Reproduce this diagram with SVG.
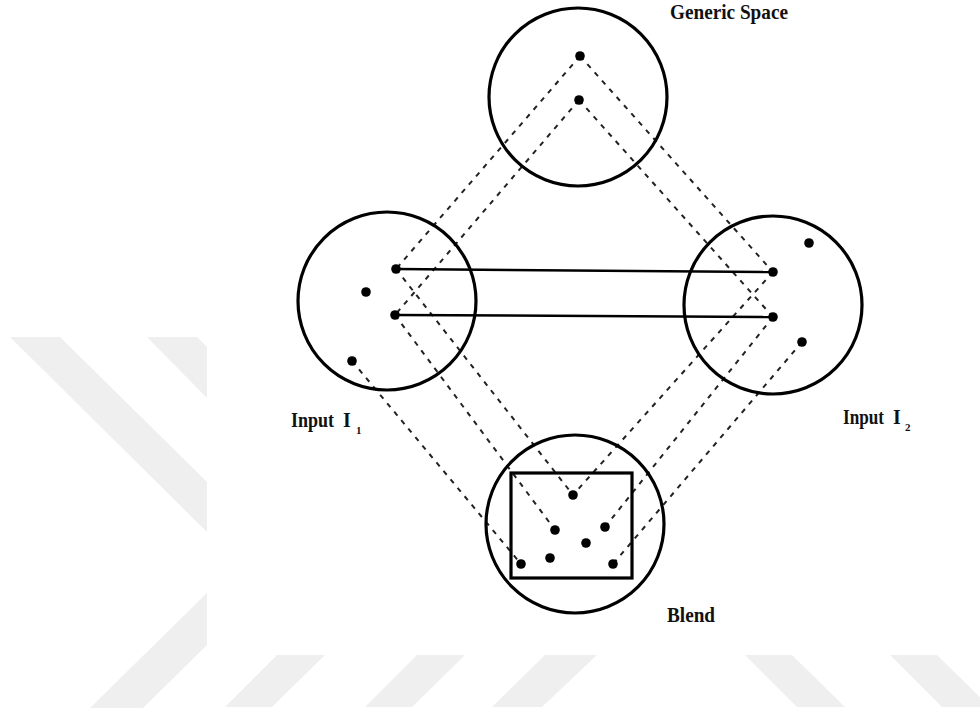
<svg xmlns="http://www.w3.org/2000/svg" width="980" height="713" viewBox="0 0 980 713">
<style>
.wm{fill:#efefef;stroke:none}
.ring{fill:none;stroke:#000;stroke-width:3.2}
.box{fill:none;stroke:#000;stroke-width:3.2}
.dot{fill:#000}
.dash{stroke:#222;stroke-width:2;stroke-dasharray:5 6;fill:none}
.solid{stroke:#000;stroke-width:2.5;fill:none}
.lbl{font-family:"Liberation Serif","Times New Roman",serif;font-weight:bold;font-size:20px;fill:#111}
.sub{font-size:11px}
</style>
<rect width="980" height="713" fill="#fff"/>
<g id="watermark">
<polygon class="wm" points="10,337 60,337 207,482 207,532"/>
<polygon class="wm" points="147,337 197,337 207,347 207,398"/>
<polygon class="wm" points="90,708 143,708 207,645 207,593"/>
<polygon class="wm" points="277,655 325,655 272,707 225,707"/>
<polygon class="wm" points="417,655 465,655 412,707 365,707"/>
<polygon class="wm" points="545,655 597,655 542,707 492,707"/>
<polygon class="wm" points="745,655 792,655 845,707 797,707"/>
<polygon class="wm" points="890,655 937,655 990,707 942,707"/>
</g>
<g id="connectors">
<line class="dash" x1="580" y1="56" x2="396" y2="269"/>
<line class="dash" x1="579" y1="100" x2="395" y2="315"/>
<line class="dash" x1="580" y1="56" x2="773" y2="272"/>
<line class="dash" x1="579" y1="100" x2="773" y2="317"/>
<line class="dash" x1="396" y1="269" x2="573" y2="495"/>
<line class="dash" x1="395" y1="315" x2="555" y2="530"/>
<line class="dash" x1="352" y1="361" x2="521" y2="564"/>
<line class="dash" x1="773" y1="272" x2="573" y2="495"/>
<line class="dash" x1="773" y1="317" x2="605" y2="527"/>
<line class="dash" x1="802" y1="342" x2="613" y2="564"/>
<line class="solid" x1="396" y1="269" x2="773" y2="272"/>
<line class="solid" x1="395" y1="315" x2="773" y2="317"/>
</g>
<g id="generic">
<circle class="ring" cx="578" cy="97" r="89"/>
<circle class="dot" cx="580" cy="56" r="4.8"/>
<circle class="dot" cx="579" cy="100" r="4.8"/>
<text class="lbl" x="670" y="19" textLength="118" lengthAdjust="spacingAndGlyphs">Generic Space</text>
</g>
<g id="input1">
<circle class="ring" cx="387" cy="301" r="89"/>
<circle class="dot" cx="396" cy="269" r="4.8"/>
<circle class="dot" cx="395" cy="315" r="4.8"/>
<circle class="dot" cx="366" cy="292" r="4.8"/>
<circle class="dot" cx="352" cy="361" r="4.8"/>
<text class="lbl" x="291" y="427"><tspan textLength="43" lengthAdjust="spacingAndGlyphs">Input</tspan><tspan x="343">I</tspan><tspan class="sub" x="356" dy="7">1</tspan></text>
</g>
<g id="input2">
<circle class="ring" cx="773" cy="305" r="89"/>
<circle class="dot" cx="773" cy="272" r="4.8"/>
<circle class="dot" cx="773" cy="317" r="4.8"/>
<circle class="dot" cx="809" cy="243" r="4.8"/>
<circle class="dot" cx="802" cy="342" r="4.8"/>
<text class="lbl" x="843" y="424"><tspan textLength="41" lengthAdjust="spacingAndGlyphs">Input</tspan><tspan x="893">I</tspan><tspan class="sub" x="905" dy="7">2</tspan></text>
</g>
<g id="blend">
<circle class="ring" cx="575" cy="524" r="89"/>
<rect class="box" x="511" y="473" width="121" height="105"/>
<circle class="dot" cx="573" cy="495" r="4.8"/>
<circle class="dot" cx="555" cy="530" r="4.8"/>
<circle class="dot" cx="605" cy="527" r="4.8"/>
<circle class="dot" cx="586" cy="543" r="4.8"/>
<circle class="dot" cx="550" cy="558" r="4.8"/>
<circle class="dot" cx="521" cy="564" r="4.8"/>
<circle class="dot" cx="613" cy="564" r="4.8"/>
<text class="lbl" x="667" y="622" textLength="48" lengthAdjust="spacingAndGlyphs">Blend</text>
</g>
</svg>
